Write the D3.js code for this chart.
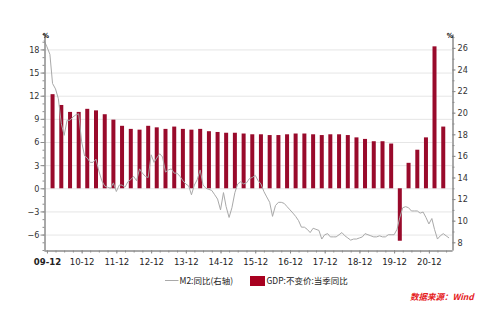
<!DOCTYPE html>
<html>
<head>
<meta charset="utf-8">
<script src="https://cdn.jsdelivr.net/npm/d3@7"></script>
<style>
  body { margin: 0; background: #fff; }
  svg { display: block; }
</style>
</head>
<body>
<script>
// Chart settings
const width = 501;
const height = 319;
const plot = { left: 44, right: 452, top: 34, bottom: 250 };

// Data
// GDP:不变价:当季同比, quarterly from 2010Q1 to 2021Q2 (%)
const gdpStart = new Date(2010, 2, 1);
const gdpValues = [
  12.2, 10.8, 9.9, 9.9,
  10.3, 10.1, 9.6, 8.9,
  8.1, 7.7, 7.6, 8.1,
  7.9, 7.7, 8.0, 7.7,
  7.6, 7.7, 7.4, 7.3,
  7.2, 7.2, 7.1, 7.0,
  7.0, 6.9, 6.9, 7.0,
  7.1, 7.1, 7.0, 6.9,
  7.0, 7.0, 6.9, 6.6,
  6.4, 6.1, 6.1, 5.8,
  -6.8, 3.3, 5.0, 6.6,
  18.4, 8.0
];

// M2:同比, monthly from 2009-12 to 2021-08 (%)
const m2Start = new Date(2009, 11, 1);
const m2Values = [
  26.7, 26.1, 25.4, 22.7, 22.2, 21.3, 19.0, 17.9, 19.3, 19.3, 19.6, 19.8, 19.9,
  17.3, 16.0, 15.8, 15.4, 15.4, 15.7, 14.6, 13.7, 13.2, 13.1, 13.0, 13.5,
  12.7, 13.3, 13.3, 13.1, 13.6, 13.8, 14.1, 13.7, 14.8, 14.4, 14.1, 14.0,
  16.1, 15.4, 15.8, 16.2, 15.9, 14.5, 14.7, 14.8, 14.4, 14.4, 14.1, 13.7,
  13.4, 13.2, 12.4, 13.3, 13.8, 14.7, 13.3, 13.0, 12.9, 12.8, 12.4, 12.0,
  11.0, 12.6, 11.3, 10.3, 11.2, 12.6, 13.4, 13.6, 13.4, 13.5, 13.9, 14.0,
  14.2, 13.7, 13.4, 12.7, 12.2, 11.7, 10.4, 11.4, 11.7, 11.7, 11.6, 11.3,
  11.0, 10.7, 10.4, 10.0, 9.4, 9.4, 9.2, 8.9, 9.3, 9.2, 9.1, 8.3,
  8.7, 8.8, 8.5, 8.5, 8.5, 8.7, 8.9, 8.6, 8.4, 8.2, 8.3, 8.3,
  8.4, 8.5, 8.8, 8.7, 8.6, 8.5, 8.5, 8.6, 8.5, 8.5, 8.7, 8.7,
  8.7, 9.2, 10.3, 11.2, 11.3, 11.2, 10.9, 10.9, 10.9, 10.7, 10.8, 10.3,
  9.7, 10.2, 9.2, 8.3, 8.6, 8.8, 8.6, 8.4
];

// Axis ticks
const xTickLabels = ["09-12", "10-12", "11-12", "12-12", "13-12", "14-12",
                     "15-12", "16-12", "17-12", "18-12", "19-12", "20-12"];
const leftTicks = [-6, -3, 0, 3, 6, 9, 12, 15, 18];
const rightTicks = [8, 10, 12, 14, 16, 18, 20, 22, 24, 26];

const legendLabels = ["M2:同比(右轴)", "GDP:不变价:当季同比"];
const sourceLabel = "数据来源：Wind";

const barColor = "#990a2b";
const lineColor = "#a9a9a9";
const axisFont = "'DejaVu Sans Condensed', 'Liberation Sans Narrow', 'DejaVu Sans', sans-serif";
const cjkFont = "'Noto Sans CJK SC', 'Noto Sans', sans-serif";

const gdp = gdpValues.map((v, i) => ({ date: d3.timeMonth.offset(gdpStart, i * 3), value: v }));
const m2 = m2Values.map((v, i) => ({ date: d3.timeMonth.offset(m2Start, i), value: v }));
// year-end tick dates (end of December of each labelled year)
const xTickDates = xTickLabels.map(s => new Date(2000 + +s.slice(0, 2) + 1, 0, 1));

// SVG
const svg = d3.select('body')
  .append('svg')
  .attr('width', width)
  .attr('height', height)
  .style('background', '#fff');

// Scales
const x = d3.scaleTime()
  .domain([new Date(2009, 11, 1), new Date(2021, 8, 1)])
  .range([plot.left, plot.right]);

const yLeft = d3.scaleLinear()
  .domain([-8, 20])
  .range([plot.bottom, plot.top]);

// right axis: left 0 lines up with right 13
const yRight = d3.scaleLinear()
  .domain([13 - 8 / 1.4, 13 + 20 / 1.4])
  .range([plot.bottom, plot.top]);

// Gridlines
svg.append('g')
  .selectAll('line')
  .data(leftTicks)
  .join('line')
  .attr('x1', plot.left)
  .attr('x2', plot.right)
  .attr('y1', d => yLeft(d) + 0.5)
  .attr('y2', d => yLeft(d) + 0.5)
  .attr('stroke', '#e6e6e6')
  .attr('stroke-width', 1);

// GDP bars
svg.append('g')
  .selectAll('rect')
  .data(gdp)
  .join('rect')
  .attr('x', d => x(d.date) - 2)
  .attr('width', 4)
  .attr('y', d => yLeft(Math.max(0, d.value)))
  .attr('height', d => Math.abs(yLeft(d.value) - yLeft(0)))
  .attr('fill', barColor);

// M2 line
svg.append('path')
  .datum(m2)
  .attr('fill', 'none')
  .attr('stroke', lineColor)
  .attr('stroke-width', 1)
  .attr('d', d3.line().x(d => x(d.date)).y(d => yRight(d.value)));

// Axes
function styleAxis(g) {
  g.selectAll('.domain').attr('stroke', '#8c8c8c');
  g.selectAll('.tick line').attr('stroke', '#8c8c8c');
  g.selectAll('.tick text')
    .attr('fill', '#333')
    .style('font-family', axisFont)
    .style('font-size', '9px');
}

// left: minor then major
svg.append('g')
  .attr('transform', `translate(${plot.left + 0.5},0)`)
  .call(d3.axisLeft(yLeft).tickValues(d3.range(-8, 21, 1)).tickSize(2).tickSizeOuter(0).tickFormat(''))
  .call(styleAxis);
svg.append('g')
  .attr('transform', `translate(${plot.left + 0.5},0)`)
  .call(d3.axisLeft(yLeft).tickValues(leftTicks).tickSize(4).tickPadding(1).tickSizeOuter(0))
  .call(styleAxis);

// right
svg.append('g')
  .attr('transform', `translate(${plot.right + 0.5},0)`)
  .call(d3.axisRight(yRight).tickValues(d3.range(8, 28, 1)).tickSize(2).tickSizeOuter(0).tickFormat(''))
  .call(styleAxis);
svg.append('g')
  .attr('transform', `translate(${plot.right + 0.5},0)`)
  .call(d3.axisRight(yRight).tickValues(rightTicks).tickSize(3).tickPadding(2).tickSizeOuter(0))
  .call(styleAxis);

// bottom: quarterly minor ticks, yearly labels
svg.append('g')
  .attr('transform', `translate(0,${plot.bottom + 0.5})`)
  .call(d3.axisBottom(x).ticks(d3.timeMonth.every(3)).tickSize(2).tickSizeOuter(0).tickFormat(''))
  .call(styleAxis);
svg.append('g')
  .attr('transform', `translate(0,${plot.bottom + 0.5})`)
  .call(d3.axisBottom(x).tickValues(xTickDates).tickSize(3).tickPadding(5).tickSizeOuter(0)
    .tickFormat((d, i) => xTickLabels[i]))
  .call(styleAxis)
  .call(g => g.selectAll('.tick text').style('font-size', '9.5px').attr('fill', '#222'))
  .call(g => g.select('.tick text').style('font-weight', 'bold'));

// unit markers at the top of both axes
svg.append('g')
  .selectAll('text')
  .data([plot.left + 2, plot.right - 2])
  .join('text')
  .attr('x', d => d)
  .attr('y', plot.top + 4)
  .attr('text-anchor', 'middle')
  .style('font-family', axisFont)
  .style('font-size', '7px')
  .style('font-weight', 'bold')
  .text('%');

// Legend
const legend = svg.append('g').style('font-family', cjkFont).style('font-size', '8.5px').attr('fill', '#222');
legend.append('line')
  .attr('x1', 165).attr('x2', 178.5)
  .attr('y1', 280.5).attr('y2', 280.5)
  .attr('stroke', lineColor);
legend.append('text').attr('x', 179.5).attr('y', 283.5).text(legendLabels[0]);
legend.append('rect')
  .attr('x', 250).attr('y', 276).attr('width', 15).attr('height', 10)
  .attr('fill', '#a8001f');
legend.append('text').attr('x', 266.5).attr('y', 283.5).text(legendLabels[1]);

// Source
svg.append('text')
  .attr('x', 410)
  .attr('y', 300)
  .attr('fill', '#e5201c')
  .style('font-family', cjkFont)
  .style('font-size', '8.5px')
  .style('font-weight', 'bold')
  .style('font-style', 'italic')
  .text(sourceLabel);
</script>
</body>
</html>
